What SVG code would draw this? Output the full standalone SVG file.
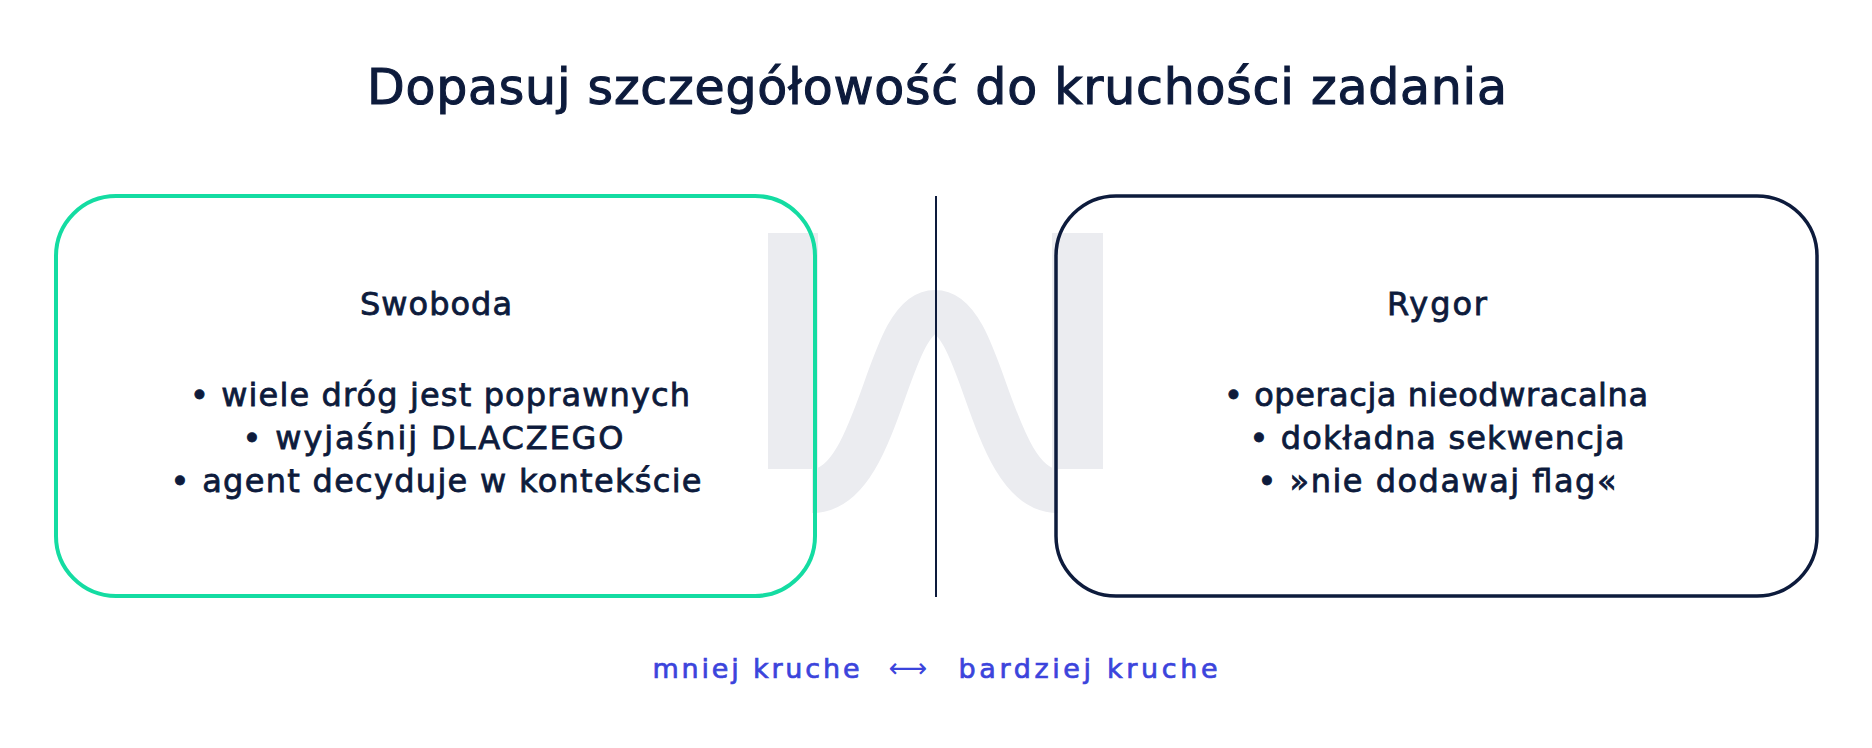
<svg xmlns="http://www.w3.org/2000/svg" width="1872" height="748" viewBox="0 0 1872 748">
<style>
  .t { font-family: "DejaVu Sans", "Liberation Sans", sans-serif; fill: #0d1b3c; stroke: #0d1b3c; text-anchor: middle; }
  .title { font-size: 49px; stroke-width: 1.1px; }
  .body { font-size: 32px; stroke-width: 0.8px; }
  .axis { font-family: "DejaVu Sans", "Liberation Sans", sans-serif; font-size: 27px; fill: #3b44dc; stroke: #3b44dc; stroke-width: 0.7px; text-anchor: middle; }
  .wm { fill: #ebecf0; }
</style>
<rect x="0" y="0" width="1872" height="748" fill="#ffffff"/>

<g id="watermark">
  <rect class="wm" x="768" y="233" width="50" height="236"/>
  <rect class="wm" x="1052" y="233" width="51" height="236"/>
  <path d="M812 491 C880 491, 886 312, 935 312 C984 312, 990 491, 1058 491" fill="none" stroke="#ebecf0" stroke-width="44"/>
</g>

<g id="title">
  <text class="t title" x="937" y="104" textLength="1140">Dopasuj szczegółowość do kruchości zadania</text>
</g>

<g id="connectors">
  <line x1="936" y1="196" x2="936" y2="597" stroke="#0d1b3c" stroke-width="2"/>
</g>

<g id="swoboda">
  <rect x="56" y="196" width="759" height="400" rx="60" ry="60" fill="none" stroke="#14dca2" stroke-width="4"/>
  <text class="t body" x="436" y="315" textLength="152">Swoboda</text>
  <text class="t body" x="440" y="406" textLength="500">• wiele dróg jest poprawnych</text>
  <text class="t body" x="433" y="449" textLength="381">• wyjaśnij DLACZEGO</text>
  <text class="t body" x="436" y="492" textLength="531">• agent decyduje w kontekście</text>
</g>

<g id="rygor">
  <rect x="1056" y="196" width="761" height="400" rx="60" ry="60" fill="none" stroke="#0d1b3c" stroke-width="3.5"/>
  <text class="t body" x="1437" y="315" textLength="100">Rygor</text>
  <text class="t body" x="1436" y="406" textLength="424">• operacja nieodwracalna</text>
  <text class="t body" x="1437" y="449" textLength="375">• dokładna sekwencja</text>
  <text class="t body" x="1437" y="492" textLength="359">• »nie dodawaj flag«</text>
</g>

<g id="axis">
  <text class="axis" x="756" y="678" textLength="207">mniej kruche</text>
  <text class="axis" x="908" y="677" style="stroke-width:0">⟷</text>
  <text class="axis" x="1088" y="678" textLength="259">bardziej kruche</text>
</g>
</svg>
